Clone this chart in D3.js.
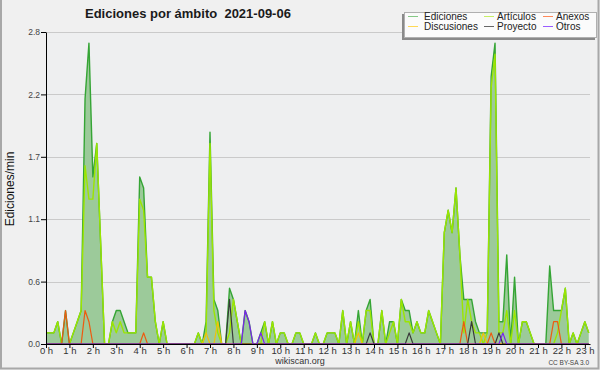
<!DOCTYPE html>
<html><head><meta charset="utf-8">
<script src="https://cdn.jsdelivr.net/npm/d3@7"></script>
<style>body{margin:0;background:#f0f0f0;} svg{display:block;font-family:"Liberation Sans",Arial,sans-serif;}</style>
</head><body><svg id="c" width="600" height="370"></svg>
<script>
// ---- data (10-minute bins, editions per minute) ----
const hourTicks = d3.range(0, 24);
const hourLabels = hourTicks.map(h => h + " h");
const yTicks = [0, 0.56, 1.12, 1.68, 2.24, 2.8];
const seriesNames = ["Ediciones", "Artículos", "Anexos", "Discusiones", "Proyecto", "Otros"];

const ediciones = [
  0.1,0.1,0.1,0.2,0,0.3,0,0.1,0.2,0.3,
  2.2,2.7,1.5,1.8,0.9,0,0,0.2,0.3,0.3,
  0.2,0.1,0.1,0.1,1.5,1.4,0.6,0.6,0.2,0,
  0.2,0,0,0,0,0,0,0,0,0.1,
  0,0.2,1.9,0.4,0.3,0,0,0.5,0.4,0.2,
  0,0.3,0.2,0,0,0.1,0.2,0,0.2,0,
  0.1,0.1,0,0,0.1,0.1,0,0,0,0.1,
  0,0,0.1,0.1,0.1,0,0.3,0,0.2,0,
  0.3,0,0.3,0.4,0,0,0.3,0,0.2,0.2,
  0,0.4,0.3,0.3,0.1,0.2,0.1,0.1,0.3,0.2,
  0.1,0,1.0,1.2,1.0,1.4,0.8,0.4,0.4,0.4,
  0.2,0.1,0.1,0.1,2.4,2.7,0.2,0.2,0.8,0,
  0.6,0,0.2,0.2,0.1,0,0,0,0,0.7,
  0.3,0.3,0.3,0.5,0,0.1,0,0.1,0.2,0.1
];
const articulos = [
  0.1,0.1,0.1,0.2,0,0,0,0.1,0.2,0.3,
  1.6,1.3,1.3,1.8,0.9,0,0,0.2,0.1,0.2,
  0.1,0.1,0.1,0.1,1.3,1.2,0.6,0.6,0.2,0,
  0.2,0,0,0,0,0,0,0,0,0.1,
  0,0.1,1.8,0.3,0.1,0,0,0.1,0.4,0.2,
  0,0,0,0,0,0,0.2,0,0.2,0,
  0.1,0.1,0,0,0.1,0.1,0,0,0,0.1,
  0,0,0.1,0.1,0.1,0,0.3,0,0.2,0,
  0.2,0,0.3,0.3,0,0,0.3,0,0.1,0.2,
  0,0.4,0.2,0.2,0.1,0.2,0.1,0.1,0.3,0.2,
  0.1,0,1.0,1.2,1.0,1.4,0.8,0.1,0.4,0.2,
  0.1,0.1,0,0.1,2.3,2.6,0.1,0.1,0.3,0,
  0.3,0,0.2,0.2,0.1,0,0,0,0,0,
  0,0.1,0.3,0.5,0,0.1,0,0.1,0.2,0.1
];
const anexos = [
  0,0,0,0,0,0.3,0,0,0,0,
  0.3,0.2,0,0,0,0,0,0,0,0,
  0,0,0,0,0,0.1,0,0,0,0,
  0,0,0,0,0,0,0,0,0,0,
  0,0,0,0,0,0,0,0,0,0,
  0,0,0,0,0,0,0,0,0,0,
  0,0,0,0,0,0,0,0,0,0,
  0,0,0,0,0,0,0,0,0,0,
  0,0,0,0,0,0,0,0,0,0,
  0,0,0,0,0,0,0,0,0,0,
  0,0,0,0,0,0,0,0.2,0,0,
  0,0,0,0,0.1,0,0,0,0,0,
  0,0,0,0,0,0,0,0,0,0,
  0.2,0.2,0,0,0,0,0,0,0,0
];
const discusiones = [
  0,0,0,0,0,0,0,0,0,0,
  0,0,0,0,0,0,0,0,0,0,
  0,0,0,0,0,0,0,0,0,0,
  0,0,0,0,0,0,0,0,0,0,
  0,0.1,0,0,0.2,0,0,0,0,0,
  0,0,0,0,0,0,0,0,0,0,
  0,0,0,0,0,0,0,0,0,0,
  0,0,0,0,0,0,0,0,0,0,
  0.1,0,0,0,0,0,0,0,0,0,
  0,0,0,0,0,0,0,0,0,0,
  0,0,0,0,0,0,0,0,0,0,
  0,0,0.1,0,0,0,0,0,0,0,
  0,0,0,0,0,0,0,0,0,0,
  0,0,0,0,0,0,0,0,0,0
];
const proyecto = [
  0,0,0,0,0,0,0,0,0,0,
  0,0,0,0,0,0,0,0,0,0,
  0,0,0,0,0,0,0,0,0,0,
  0,0,0,0,0,0,0,0,0,0,
  0,0,0,0,0,0,0,0.4,0,0,
  0,0,0,0,0,0,0,0,0,0,
  0,0,0,0,0,0,0,0,0,0,
  0,0,0,0,0,0,0,0,0,0,
  0,0,0,0.1,0,0,0,0,0,0,
  0,0,0,0.1,0,0,0,0,0,0,
  0,0,0,0,0,0,0,0,0,0.2,
  0,0,0,0,0,0,0.1,0,0,0,
  0,0,0,0,0,0,0,0,0,0,
  0,0,0,0,0,0,0,0,0,0
];
const otros = [
  0,0,0,0,0,0,0,0,0,0,
  0,0,0,0,0,0,0,0,0,0,
  0,0,0,0,0,0,0,0,0,0,
  0,0,0,0,0,0,0,0,0,0,
  0,0,0,0,0,0,0,0,0,0,
  0,0.3,0.2,0,0,0.1,0,0,0,0,
  0,0,0,0,0,0,0,0,0,0,
  0,0,0,0,0,0,0,0,0,0,
  0,0,0,0,0,0,0,0,0,0,
  0,0,0,0,0,0,0,0,0,0,
  0,0,0,0,0,0,0,0,0,0,
  0,0,0,0,0,0,0,0.1,0,0,
  0,0,0,0,0,0,0,0,0,0,
  0,0,0,0,0,0,0,0,0,0
];

// ---- drawing ----
const svg = d3.select("#c");
const L = 46, R = 590, T = 32, B = 344;
const x = d3.scaleLinear().domain([0, 23.22]).range([L, R]);
const y = d3.scaleLinear().domain([0, 2.8]).range([B, T]);
const bx = (d, i) => x(i / 6);

svg.append("rect").attr("width", 600).attr("height", 370).attr("fill", "#f0f0f0");
svg.append("rect").attr("x", L).attr("y", T).attr("width", R - L).attr("height", B - T).attr("fill", "#eeeff0");
svg.append("path").attr("d", "M1,0V368.5H598.5V0").attr("fill", "none").attr("stroke", "#a8a8a8").attr("stroke-width", 2);

// grid
svg.append("g").selectAll("line").data(yTicks.slice(1)).join("line")
  .attr("x1", L).attr("x2", R).attr("y1", d => Math.round(y(d)) + 0.5).attr("y2", d => Math.round(y(d)) + 0.5)
  .attr("stroke", "#cacaca").attr("stroke-width", 1);

// area + lines
const area = d3.area().x(bx).y0(B).y1(d => y(d));
svg.append("path").datum(ediciones).attr("d", area).attr("fill", "#9cca9a");

const line = d3.line().x(bx).y(d => y(d));
const series = [
  {data: ediciones, color: "#35a535", w: 1.4},
  {data: articulos, color: "#9be600", w: 1.4},
  {data: discusiones, color: "#f0c20a", w: 1.2},
  {data: anexos, color: "#ee5a10", w: 1.2},
  {data: proyecto, color: "#3a3a3a", w: 1.2},
  {data: otros, color: "#7a22ee", w: 1.2}
];
series.forEach(s => {
  svg.append("path").datum(s.data).attr("d", line).attr("fill", "none")
    .attr("stroke", s.color).attr("stroke-width", s.w).attr("stroke-linejoin", "round");
});

// y axis
const gy = svg.append("g").attr("transform", `translate(${L},0)`);
gy.call(d3.axisLeft(y).tickValues(d3.range(0, 21).map(k => k * 0.14)).tickSize(3).tickSizeOuter(0).tickFormat(""));
gy.call(d3.axisLeft(y).tickValues(yTicks).tickSize(5).tickSizeOuter(0).tickFormat(d3.format(".1f")));
gy.selectAll("path.domain").attr("stroke", "#000");
gy.selectAll("line").attr("stroke", "#000");
gy.selectAll("text").attr("font-size", 8.5).attr("fill", "#444").attr("x", -6)
  .attr("font-family", "Liberation Sans, Arial, sans-serif");

// x axis
const gx = svg.append("g").attr("transform", `translate(0,${B})`);
gx.call(d3.axisBottom(x).tickValues(d3.range(0, 140).map(k => k / 6)).tickSize(4).tickSizeOuter(0).tickFormat(""));
gx.call(d3.axisBottom(x).tickValues(hourTicks).tickSize(4).tickSizeOuter(0).tickFormat((d, i) => hourLabels[i]));
gx.selectAll("path.domain").attr("stroke", "#000");
gx.selectAll("line").attr("stroke", "#000");
gx.selectAll("text").attr("font-size", 9.5).attr("fill", "#333").attr("y", 10).attr("dy", 0)
  .attr("font-family", "Liberation Sans, Arial, sans-serif");

// titles
svg.append("text").attr("x", 85).attr("y", 18).attr("font-size", 13).attr("font-weight", "bold")
  .attr("fill", "#1a1a1a").attr("xml:space", "preserve").style("white-space", "pre").text("Ediciones por ámbito  2021-09-06");
svg.append("text").attr("transform", "translate(14,189) rotate(-90)").attr("text-anchor", "middle")
  .attr("font-size", 12).attr("fill", "#111").text("Ediciones/min");
svg.append("text").attr("x", 300).attr("y", 364).attr("text-anchor", "middle").attr("font-size", 9)
  .attr("fill", "#333").text("wikiscan.org");
svg.append("text").attr("x", 589).attr("y", 365).attr("text-anchor", "end").attr("font-size", 6.5)
  .attr("fill", "#444").text("CC BY-SA 3.0");

// legend
const lg = svg.append("g");
lg.append("rect").attr("x", 402).attr("y", 14).attr("width", 193).attr("height", 26).attr("fill", "#8a8a8a");
lg.append("rect").attr("x", 404.5).attr("y", 12.5).attr("width", 192).attr("height", 25).attr("fill", "#fbfbfb").attr("stroke", "#b0b0b0");
const legendColors = ["#86c986", "#c8ee66", "#ff8a5a", "#ffd955", "#666666", "#9a5cff"];
const legendPos = [[408, 424, 20], [484, 497, 20], [543, 556, 20], [408, 424, 30], [484, 497, 30], [543, 556, 30]];
seriesNames.forEach((n, i) => {
  const [lx, tx, ty] = legendPos[i];
  lg.append("line").attr("x1", lx).attr("x2", lx + 10).attr("y1", ty - 3.5).attr("y2", ty - 3.5)
    .attr("stroke", legendColors[i]).attr("stroke-width", 1);
  lg.append("text").attr("x", tx).attr("y", ty).attr("font-size", 10).attr("fill", "#222").text(n);
});
</script></body></html>
